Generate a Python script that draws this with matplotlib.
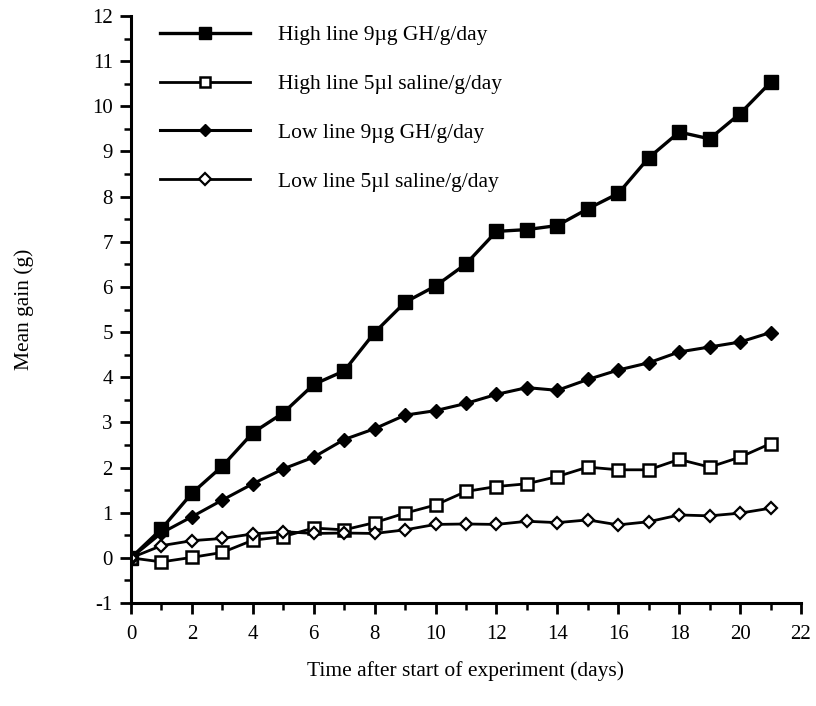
import numpy as np
import matplotlib
matplotlib.use("Agg")
import matplotlib.pyplot as plt
import matplotlib.ticker as ticker

plt.rcParams["font.family"] = ["Liberation Serif", "DejaVu Serif"]
plt.rcParams["axes.unicode_minus"] = False

DAYS = list(range(22))
HIGH_GH = [0, 0.64, 1.43, 2.03, 2.77, 3.21, 3.84, 4.14, 4.99, 5.66, 6.02, 6.51,
           7.23, 7.27, 7.36, 7.73, 8.07, 8.86, 9.43, 9.28, 9.84, 10.53]
HIGH_SALINE = [0, -0.09, 0.01, 0.12, 0.39, 0.47, 0.66, 0.62, 0.78, 0.99, 1.17, 1.47,
               1.58, 1.64, 1.80, 2.01, 1.95, 1.95, 2.18, 2.01, 2.23, 2.53]
LOW_GH = [0, 0.55, 0.91, 1.28, 1.64, 1.97, 2.23, 2.62, 2.86, 3.16, 3.26, 3.42,
          3.62, 3.77, 3.71, 3.95, 4.16, 4.32, 4.56, 4.67, 4.78, 4.99]
LOW_SALINE = [0, 0.27, 0.38, 0.43, 0.53, 0.58, 0.54, 0.55, 0.54, 0.62, 0.74, 0.75,
              0.74, 0.81, 0.78, 0.84, 0.73, 0.80, 0.95, 0.93, 0.99, 1.10]

LABELS = ["High line 9\u00b5g GH/g/day", "High line 5\u00b5l saline/g/day",
          "Low line 9\u00b5g GH/g/day", "Low line 5\u00b5l saline/g/day"]

fig = plt.figure(figsize=(8.16, 7.06), dpi=100)
ax = fig.add_axes([0.1605, 0.1459, 0.8211, 0.8314])

ax.plot(DAYS, HIGH_GH, color="black", lw=2.4, marker="s", ms=9.5,
        mfc="black", mec="black", label=LABELS[0])
ax.plot(DAYS, HIGH_SALINE, color="black", lw=2.0, marker="s", ms=8.5,
        mfc="white", mec="black", mew=1.8, label=LABELS[1])
ax.plot(DAYS, LOW_GH, color="black", lw=2.2, marker="D", ms=7,
        mfc="black", mec="black", label=LABELS[2])
ax.plot(DAYS, LOW_SALINE, color="black", lw=2.0, marker="D", ms=6.5,
        mfc="white", mec="black", mew=1.6, label=LABELS[3])

ax.set_xlim(0, 22)
ax.set_ylim(-1, 12)
ax.spines["top"].set_visible(False)
ax.spines["right"].set_visible(False)
ax.spines["left"].set_linewidth(2.2)
ax.spines["bottom"].set_linewidth(2.2)

ax.xaxis.set_major_locator(ticker.MultipleLocator(2))
ax.xaxis.set_minor_locator(ticker.MultipleLocator(1))
ax.yaxis.set_major_locator(ticker.MultipleLocator(1))
ax.yaxis.set_minor_locator(ticker.MultipleLocator(0.5))
ax.tick_params(which="major", direction="out", length=8, width=2, labelsize=15, pad=8)
ax.tick_params(which="minor", direction="out", length=5, width=1.8)
ax.tick_params(axis="y", which="major", pad=5)

ax.set_xlabel("Time after start of experiment (days)", fontsize=15.5, labelpad=12)
ax.set_ylabel("Mean gain (g)", fontsize=15.5, labelpad=42)

ax.legend(loc="upper left", bbox_to_anchor=(0.015, 1.017), frameon=False,
          fontsize=15.5, handlelength=4.15, handletextpad=1.3, labelspacing=1.33,
          markerscale=0.9)

fig.savefig("out.png", dpi=100)
